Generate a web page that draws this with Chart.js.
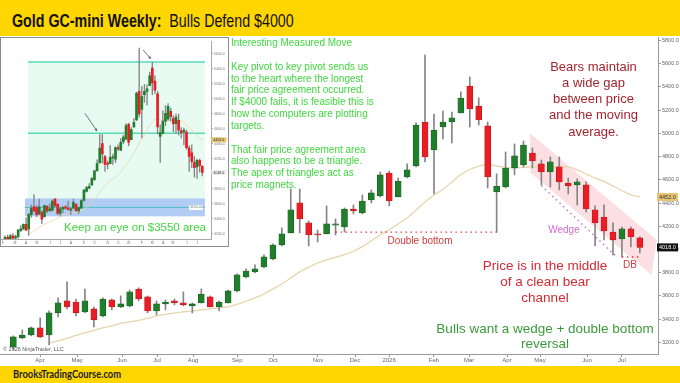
<!DOCTYPE html>
<html>
<head>
<meta charset="utf-8">
<title>Gold GC-mini Weekly</title>
<script src="https://cdn.jsdelivr.net/npm/chart.js@4.4.1/dist/chart.umd.min.js"></script>
<style>
  body { margin:0; width:680px; height:383px; overflow:hidden; background:#fff; position:relative; font-family:"Liberation Sans", Arial, sans-serif; }
  #main { position:absolute; left:0; top:0; }
  #header { position:absolute; left:0; top:0; width:680px; height:36px; background:#ffd600; }
  #header .ttl { position:absolute; left:12px; top:9.5px; font-size:19px; line-height:21px; color:#111; white-space:nowrap; transform:scaleX(0.75); transform-origin:0 0; }
  #footer { position:absolute; left:0; top:366px; width:680px; height:17px; background:#ffd600; }
  #footer span { position:absolute; left:12.5px; top:2px; font:700 10.5px/13px Lato, sans-serif; color:#222; white-space:nowrap; transform:scaleX(0.89); transform-origin:0 0; }
  #inset { position:absolute; left:0; top:37px; width:227px; height:208px; border:1px solid #8c8c8c; background:#fff; }
  #inset canvas { display:block; }
  .t { position:absolute; white-space:nowrap; }
  .c { transform:translateX(-50%); text-align:center; }
</style>
</head>
<body>
<canvas id="main" width="680" height="366"></canvas>
<div id="header"><div class="ttl"><b>Gold GC-mini Weekly:</b>&nbsp; Bulls Defend $4000</div></div>
<div id="footer"><span>BrooksTradingCourse.com</span></div>
<div id="inset"><canvas id="insetChart" width="227" height="208"></canvas></div>

<div class="t" style="left:231px;top:37px;font-size:10px;line-height:11.85px;color:#3fd83f">Interesting Measured Move<br><br>Key pivot to key pivot sends us<br>to the heart where the longest<br>fair price agreement occurred.<br>If $4000 fails, it is feasible this is<br>how the computers are plotting<br>targets.<br><br>That fair price agreement area<br>also happens to be a triangle.<br>The apex of triangles act as<br>price magnets.</div>
<div class="t" style="left:64px;top:221px;font-size:11.5px;line-height:13px;color:#3fd83f">Keep an eye on $3550 area</div>
<div class="t c" style="left:593.5px;top:58.6px;font-size:13px;line-height:16.25px;color:#a3262f">Bears maintain<br>a wide gap<br>between price<br>and the moving<br>average.</div>
<div class="t c" style="left:420px;top:235px;font-size:10px;line-height:12px;color:#d23a3a">Double bottom</div>
<div class="t c" style="left:564px;top:224px;font-size:10px;line-height:12px;color:#d36bd3">Wedge</div>
<div class="t c" style="left:630px;top:259px;font-size:10px;line-height:12px;color:#d23a3a">DB</div>
<div class="t c" style="left:545px;top:257.5px;font-size:13.5px;line-height:16.3px;color:#d42a36">Price is in the middle<br>of a clean bear<br>channel</div>
<div class="t c" style="left:545px;top:320.5px;font-size:13.5px;line-height:15.7px;color:#3c9a3c">Bulls want a wedge + double bottom<br>reversal</div>
<div class="t" style="left:3px;top:346px;font-size:5.5px;line-height:6px;color:#555">© 2026 NinjaTrader, LLC</div>

<script>
// weekly candles, Mar 2025 .. Jul 2026
const opens  = [3161,3239,3264,3325,3264,3454,3557,3548,3462,3488,3428,3566,3505,3514,3660,3592,3471,3531,3557,3540,
                3514,3540,3592,3505,3540,3643,3764,3807,3850,3919,4039,4143,4401,4229,4134,4134,4210,4194,4349,4315,
                4427,4461,4659,4453,4625,4719,5098,4857,5055,5098,5176,5408,5236,5064,4496,4539,4702,4728,4831,4737,
                4668,4711,4573,4556,4556,4341,4280,4151,4091,4177,4100];
const highs  = [3256,3307,3333,3411,3471,3583,3721,3574,3660,3505,3583,3574,3600,3650,3670,3600,3557,3566,3574,3635,
                3540,3660,3600,3557,3650,3790,3833,3867,3953,4048,4186,4521,4521,4246,4168,4375,4263,4358,4384,4470,
                4513,4668,4676,4616,4737,5090,5675,5167,5193,5184,5357,5486,5305,5098,4651,4840,4909,4935,4874,4771,
                4797,4797,4616,4608,4582,4375,4384,4229,4194,4194,4108];
const lows   = [3140,3230,3256,3240,3178,3419,3488,3428,3455,3333,3419,3480,3500,3505,3557,3454,3437,3480,3523,3514,
                3454,3540,3505,3471,3540,3635,3755,3798,3841,3910,4031,4143,4143,4031,4065,4134,4125,4151,4306,4306,
                4401,4453,4375,4453,4616,4711,4754,4478,4952,4917,5176,5055,5072,4530,4151,4530,4642,4711,4702,4556,
                4539,4513,4478,4384,4323,4031,4082,3953,3936,4022,3970];
const closes = [3247,3264,3325,3247,3454,3540,3505,3454,3557,3394,3574,3505,3531,3635,3574,3471,3531,3548,3540,3523,
                3531,3617,3505,3548,3643,3781,3815,3833,3936,4039,4134,4341,4263,4125,4125,4220,4215,4349,4332,4418,
                4487,4642,4418,4590,4685,5072,4797,5029,5098,5133,5305,5210,5116,4625,4547,4702,4806,4900,4762,4668,
                4754,4582,4547,4582,4349,4229,4160,4082,4177,4108,4018];
// moving average (tan line)
const ma20 = [null,null,null,null,3195,3213,3234,3260,3282,3303,3325,3342,3363,3376,3389,3406,3428,3441,3454,3462,
              3471,3480,3488,3497,3505,3527,3553,3583,3617,3660,3703,3755,3807,3846,3884,3910,3933,3955,3985,4025,
              4075,4125,4170,4220,4272,4341,4409,4470,4517,4582,4646,4689,4719,4732,4719,4707,4702,4707,4711,4711,
              4711,4711,4711,4685,4651,4616,4586,4547,4508,4470,4452];
// a few earlier weeks only visible in the small inset chart
const earlyOpens  = [3060,3110,3150,3120,3170,3140];
const earlyHighs  = [3120,3170,3180,3190,3200,3180];
const earlyLows   = [3040,3090,3100,3110,3120,3120];
const earlyCloses = [3110,3150,3120,3170,3140,3160];

const monthLabels = ['Apr','May','Jun','Jul','Aug','Sep','Oct','Nov','Dec','2026','Feb','Mar','Apr','May','Jun','Jul'];
const monthPos    = [2.98,7.12,12.15,16.06,20.08,25.02,29.02,34.04,38.18,41.98,47.0,50.92,55.16,58.85,64.1,68.0];
const insetMonthLabels = ['F','M','A','M','J','J','A','S','O','N','D','26','F','M','A','M','J','J'];
const insetMonthPos    = [-5.8,-1.2].concat(monthPos);
const priceTicks = [3200,3400,3600,3800,4000,4200,4400,4600,4800,5000,5200,5400,5600,5800];

// drawn annotations, in (week index, price)
const bearChannel = [[57.74,5001],[71.9,4082],[71.3,3781],[57.74,4663]];
const doubleBottomLine = [[36,4150],[54.2,4150]];
const wedgeLine = [[59,4550],[67.3,3945]];
const dbLine = [[68,3936],[70.2,3936]];
// inset measured move levels
const mmTop = 5490, mmPivot = 4540, mmTarget = 3550;
const triangleBand = [3432, 3670];
const insetArrows = [[[25.4,4805],[30.0,4568]], [[47.5,5650],[50.5,5531]]];

const GREEN = '#1f7f2b', RED = '#ea1d25';

Chart.defaults.font.family = '"Liberation Sans", Arial, sans-serif';

function candleSets(o, h, l, c, start, bodyW, wickW, ma, maW) {
  return [
    { type:'line', data: ma.map((v,i)=>({x:i+start, y:v})).filter(p => p.y !== null),
      borderColor:'#e9d5ab', borderWidth:maW, pointRadius:0, cubicInterpolationMode:'monotone', order:3 },
    { data: l.map((v,i)=>({x:i+start, y:[v, h[i]]})), backgroundColor:'#858585',
      barThickness:wickW, grouped:false, order:2 },
    { data: o.map((v,i)=>({x:i+start, y:[v, c[i]]})),
      backgroundColor: c.map((v,i)=> v >= o[i] ? GREEN : RED),
      borderColor: c.map((v,i)=> v >= o[i] ? '#145a1c' : '#b3141a'),
      borderWidth: bodyW > 3 ? 0.6 : 0, borderSkipped:false,
      barThickness:bodyW, minBarLength:1.2, grouped:false, order:1 }
  ];
}

function pt(chart, p) {
  return [chart.scales.x.getPixelForValue(p[0]), chart.scales.y.getPixelForValue(p[1])];
}

function tag(ctx, x0, py, w, h, text, bg, fg, size) {
  ctx.fillStyle = bg;
  ctx.fillRect(x0, py - h/2, w, h);
  ctx.fillStyle = fg;
  ctx.font = size + 'px "Liberation Sans"';
  ctx.textBaseline = 'middle';
  ctx.fillText(text, x0 + 2, py + 0.3);
}

const mainAnnot = {
  id: 'mainAnnot',
  beforeDatasetsDraw(chart) {
    const ctx = chart.ctx;
    ctx.save();
    ctx.fillStyle = 'rgba(245,150,160,0.30)';
    ctx.beginPath();
    bearChannel.forEach((p,k) => { const [px,py] = pt(chart,p); k ? ctx.lineTo(px,py) : ctx.moveTo(px,py); });
    ctx.closePath();
    ctx.fill();
    ctx.restore();
  },
  afterDatasetsDraw(chart) {
    const ctx = chart.ctx;
    const dotted = (line, color) => {
      const a = pt(chart, line[0]), b = pt(chart, line[1]);
      ctx.save();
      ctx.strokeStyle = color; ctx.lineWidth = 1.4; ctx.setLineDash([1.4, 3.6]);
      ctx.beginPath(); ctx.moveTo(a[0], a[1]); ctx.lineTo(b[0], b[1]); ctx.stroke();
      ctx.restore();
    };
    dotted(doubleBottomLine, '#d9383a');
    dotted(wedgeLine, '#b36ad6');
    dotted(dbLine, '#d9383a');
  },
  afterDraw(chart) {
    const ctx = chart.ctx, y = chart.scales.y;
    ctx.save();
    const maLast = ma20[ma20.length-1], cLast = closes[closes.length-1];
    tag(ctx, 657, y.getPixelForValue(maLast), 21, 8, maLast.toFixed(1), '#e6c470', '#333', 5.5);
    tag(ctx, 657, y.getPixelForValue(cLast), 21, 8, cLast.toFixed(1), '#111', '#fff', 5.5);
    ctx.restore();
  }
};

new Chart(document.getElementById('main'), {
  type: 'bar',
  data: { datasets: candleSets(opens, highs, lows, closes, 0, 6, 1, ma20, 1.3) },
  options: {
    responsive: false, animation: false, devicePixelRatio: 1,
    layout: { padding: { top: 37, left: 0, right: 0, bottom: 0 } },
    plugins: { legend: { display: false }, tooltip: { enabled: false } },
    scales: {
      x: { type:'linear', min:-1.49, max:72.03, offset:false,
           grid: { display:true, drawOnChartArea:false, tickLength:3, color:'#9a9a9a', offset:false },
           border: { color:'#9a9a9a' },
           afterBuildTicks: s => { s.ticks = monthPos.map(v => ({ value: v })); },
           afterFit: s => { s.height = 12; },
           ticks: { autoSkip:false, maxRotation:0, padding:0, font:{ size:6 }, color:'#666',
                    callback: (v, i) => monthLabels[i] } },
      y: { position:'right', min:3100, max:5830,
           grid: { display:true, drawOnChartArea:false, tickLength:3, color:'#9a9a9a' },
           border: { color:'#9a9a9a' },
           afterBuildTicks: s => { s.ticks = priceTicks.map(v => ({ value: v })); },
           afterFit: s => { s.width = 22; },
           ticks: { padding:1, font:{ size:5.5 }, color:'#666', callback: v => v.toFixed(1) } }
    }
  },
  plugins: [mainAnnot]
});

// ---- inset: same weeks, plus a few earlier ones ----
const insetAnnot = {
  id: 'insetAnnot',
  beforeDatasetsDraw(chart) {
    const ctx = chart.ctx, x = chart.scales.x, y = chart.scales.y;
    const xl = x.getPixelForValue(3.74), xr = x.getPixelForValue(71.0);
    ctx.save();
    ctx.fillStyle = '#e8fbf2';
    ctx.fillRect(xl, y.getPixelForValue(mmTop), xr - xl, y.getPixelForValue(triangleBand[0]) - y.getPixelForValue(mmTop));
    const bl = x.getPixelForValue(2.6);
    ctx.fillStyle = '#b2cdf3';
    ctx.fillRect(bl, y.getPixelForValue(triangleBand[1]), xr - bl, y.getPixelForValue(triangleBand[0]) - y.getPixelForValue(triangleBand[1]));
    ctx.strokeStyle = '#56dcb6'; ctx.lineWidth = 1.5;
    [mmTop, mmPivot].forEach(v => { const py = y.getPixelForValue(v); ctx.beginPath(); ctx.moveTo(xl, py); ctx.lineTo(xr, py); ctx.stroke(); });
    ctx.strokeStyle = '#4fbfc4'; ctx.lineWidth = 1;
    const ty = y.getPixelForValue(mmTarget);
    ctx.beginPath(); ctx.moveTo(bl, ty); ctx.lineTo(xr, ty); ctx.stroke();
    ctx.fillStyle = '#fff'; ctx.fillRect(xr - 16, ty - 2.5, 14, 5);
    ctx.fillStyle = '#777'; ctx.font = '3.5px "Liberation Sans"'; ctx.textBaseline = 'middle';
    ctx.fillText(mmTarget.toFixed(2), xr - 15, ty);
    ctx.restore();
  },
  afterDatasetsDraw(chart) {
    const ctx = chart.ctx;
    ctx.save();
    ctx.strokeStyle = '#555'; ctx.fillStyle = '#555'; ctx.lineWidth = 0.8;
    insetArrows.forEach(ar => {
      const a = pt(chart, ar[0]), b = pt(chart, ar[1]);
      const ang = Math.atan2(b[1]-a[1], b[0]-a[0]);
      ctx.beginPath(); ctx.moveTo(a[0], a[1]); ctx.lineTo(b[0], b[1]); ctx.stroke();
      ctx.beginPath(); ctx.moveTo(b[0], b[1]);
      ctx.lineTo(b[0] - 3*Math.cos(ang-0.45), b[1] - 3*Math.sin(ang-0.45));
      ctx.lineTo(b[0] - 3*Math.cos(ang+0.45), b[1] - 3*Math.sin(ang+0.45));
      ctx.closePath(); ctx.fill();
    });
    ctx.restore();
  },
  afterDraw(chart) {
    const ctx = chart.ctx, y = chart.scales.y, ax = chart.chartArea.right;
    ctx.save();
    const maLast = ma20[ma20.length-1], cLast = closes[closes.length-1];
    tag(ctx, ax, y.getPixelForValue(maLast), 15, 5, maLast.toFixed(1), '#e6c470', '#333', 3.5);
    tag(ctx, ax, y.getPixelForValue(cLast), 15, 5, cLast.toFixed(1), '#eee', '#333', 3.5);
    ctx.restore();
  }
};

new Chart(document.getElementById('insetChart'), {
  type: 'bar',
  data: { datasets: candleSets(earlyOpens.concat(opens), earlyHighs.concat(highs), earlyLows.concat(lows),
                               earlyCloses.concat(closes), -earlyOpens.length, 2, 0.7,
                               earlyOpens.map(() => null).concat(ma20), 0.8) },
  options: {
    responsive: false, animation: false, devicePixelRatio: 1,
    layout: { padding: { top: 1, left: 0, right: 0, bottom: 0 } },
    plugins: { legend: { display: false }, tooltip: { enabled: false } },
    scales: {
      x: { type:'linear', min:-6.53, max:73.5, offset:false,
           grid: { display:true, drawOnChartArea:false, tickLength:1.5, color:'#aaa', offset:false },
           border: { color:'#aaa' },
           afterBuildTicks: s => { s.ticks = insetMonthPos.map(v => ({ value: v })); },
           afterFit: s => { s.height = 7; },
           ticks: { autoSkip:false, maxRotation:0, padding:0, font:{ size:3.5 }, color:'#777',
                    callback: (v, i) => insetMonthLabels[i] } },
      y: { position:'right', min:3129, max:5769,
           grid: { display:true, drawOnChartArea:false, tickLength:1.5, color:'#aaa' },
           border: { color:'#aaa' },
           afterBuildTicks: s => { s.ticks = priceTicks.filter(v => v <= 5600).map(v => ({ value: v })); },
           afterFit: s => { s.width = 16.5; },
           ticks: { padding:1, font:{ size:3.5 }, color:'#777', callback: v => v.toFixed(1) } }
    }
  },
  plugins: [insetAnnot]
});
</script>
</body>
</html>
